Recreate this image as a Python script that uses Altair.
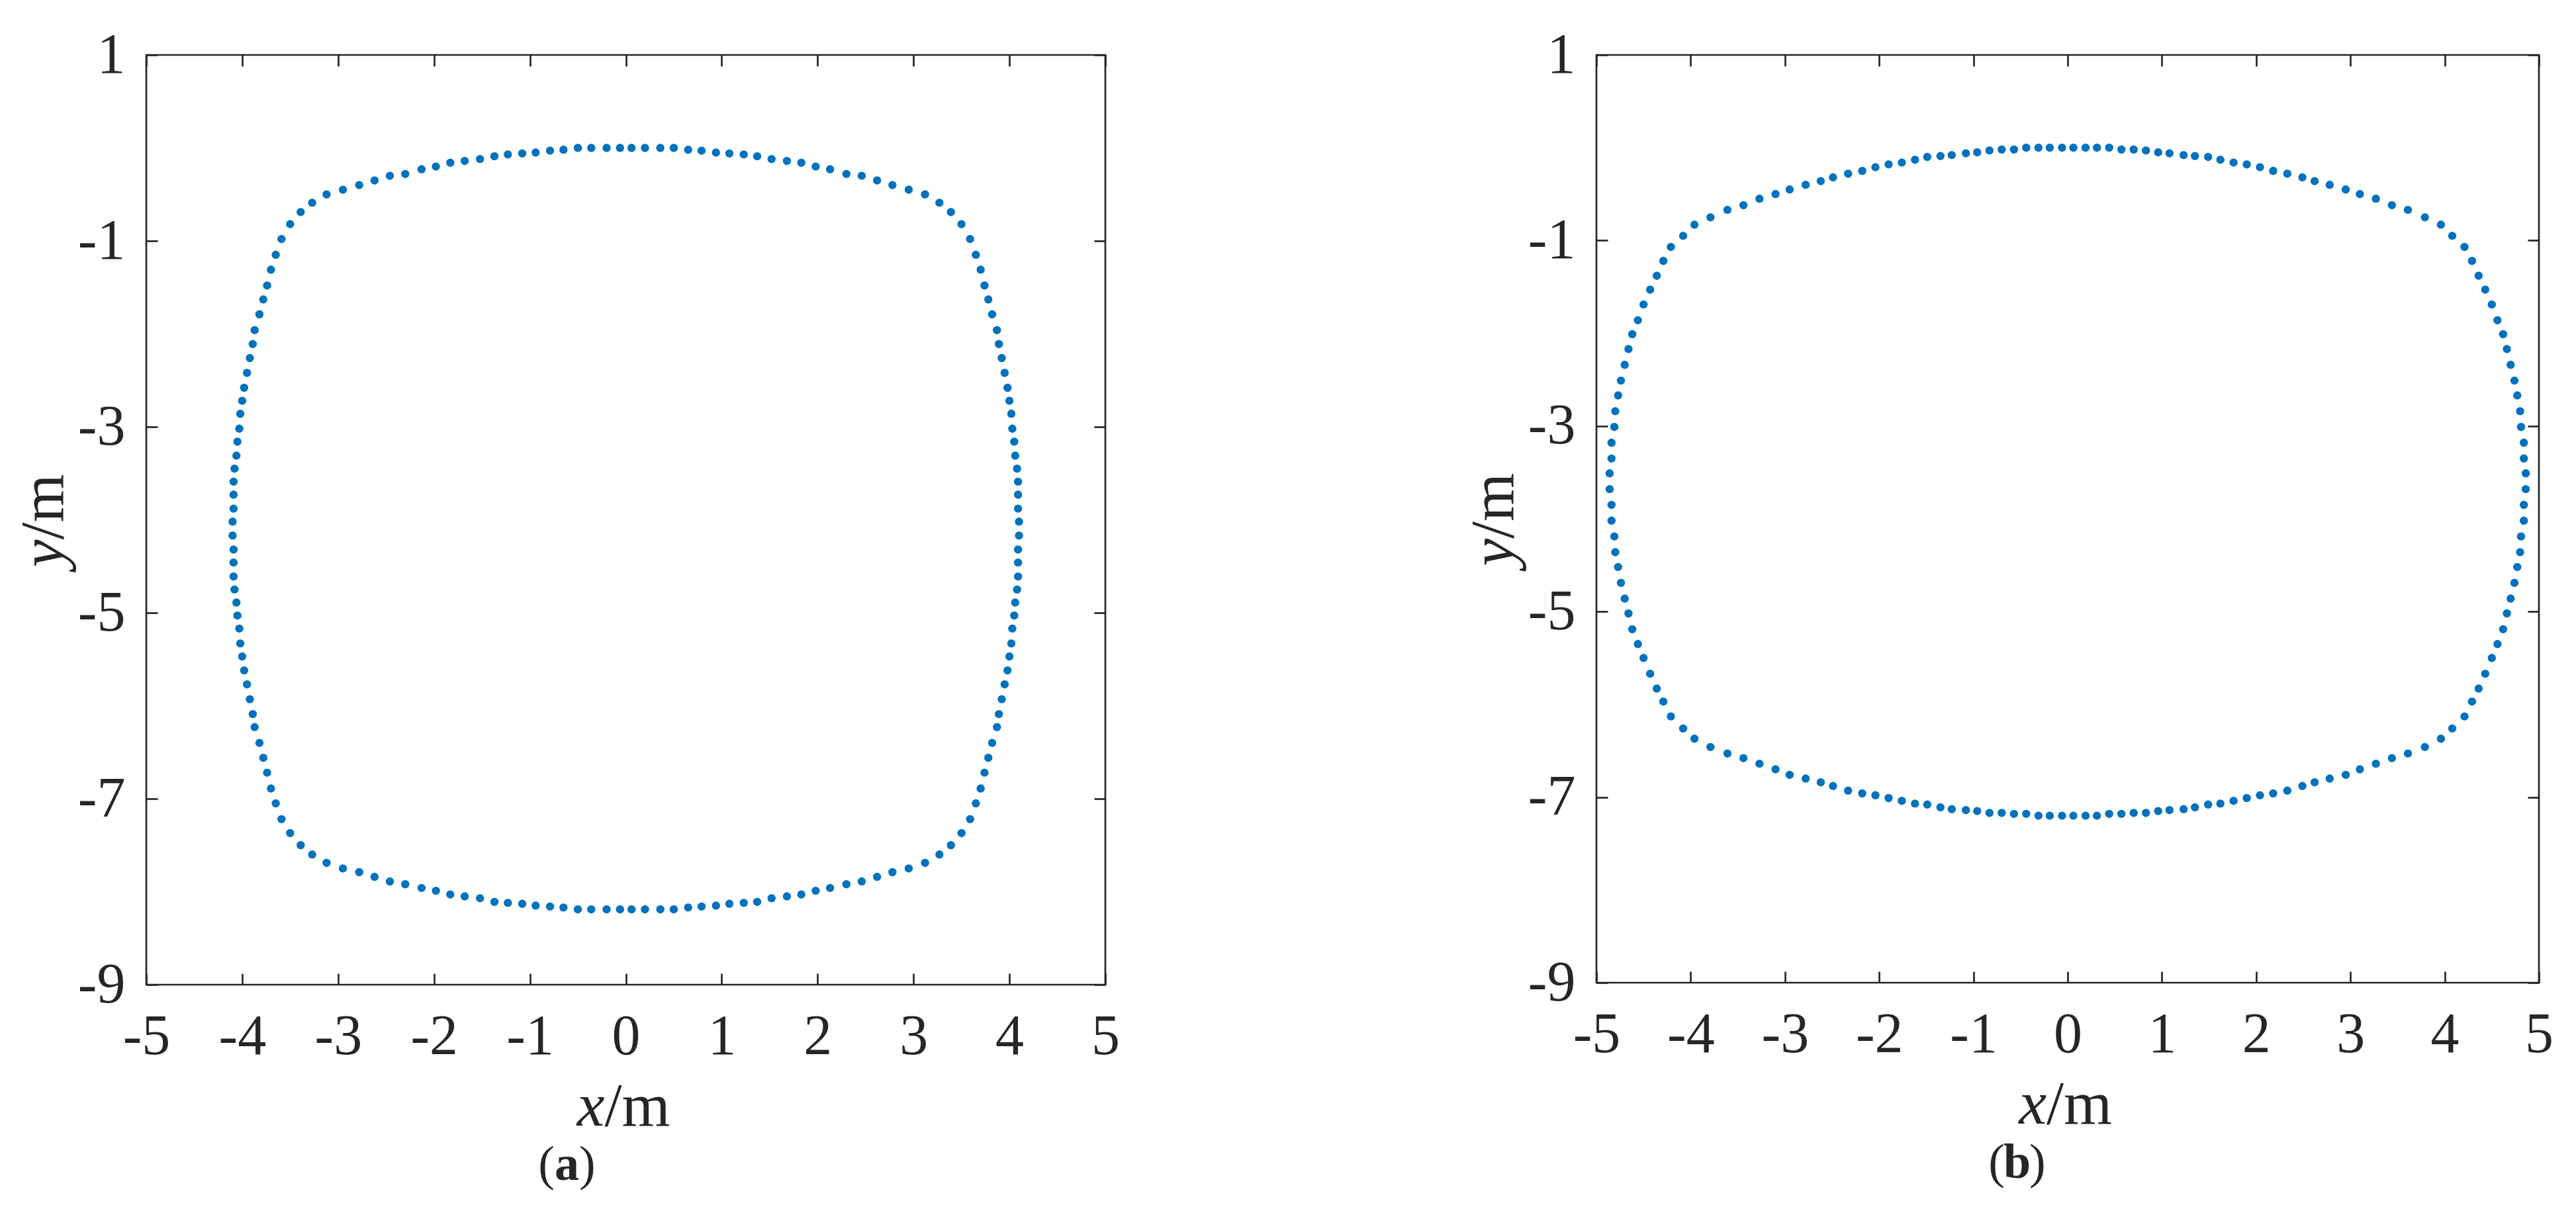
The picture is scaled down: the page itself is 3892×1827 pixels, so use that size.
import altair as alt
import pandas as pd

# ---------------- data ----------------
# Panel (a): dot rows, y shared by the right-half and left-half dots
A_Y = [0.00, 0.00, 0.00, 0.00, -0.02, -0.03, -0.05, -0.06, -0.07, -0.09, -0.12,
       -0.14, -0.16, -0.20, -0.23, -0.28, -0.30, -0.35, -0.40, -0.45, -0.50, -0.59,
       -0.69, -0.82, -0.98, -1.15, -1.31, -1.48, -1.63, -1.79, -1.96, -2.11, -2.26,
       -2.42, -2.58, -2.72, -2.86, -3.02, -3.16, -3.31, -3.45, -3.59, -3.73, -3.88,
       -4.02, -4.17, -4.32, -4.46, -4.61, -4.75, -4.89, -5.03, -5.17, -5.33, -5.47,
       -5.62, -5.77, -5.93, -6.09, -6.23, -6.40, -6.56, -6.72, -6.89, -7.05, -7.22,
       -7.37, -7.50, -7.60, -7.69, -7.75, -7.79, -7.84, -7.89, -7.92, -7.96, -7.99,
       -8.03, -8.05, -8.07, -8.11, -8.12, -8.13, -8.15, -8.16, -8.17, -8.19, -8.19,
       -8.19, -8.19]
A_X_RIGHT = [0.06, 0.20, 0.36, 0.50, 0.65, 0.79, 0.94, 1.08, 1.23, 1.37, 1.52,
             1.68, 1.83, 1.98, 2.13, 2.30, 2.46, 2.62, 2.78, 2.95, 3.12, 3.27,
             3.39, 3.50, 3.59, 3.65, 3.70, 3.74, 3.78, 3.82, 3.87, 3.89, 3.92,
             3.95, 3.98, 4.00, 4.02, 4.03, 4.05, 4.06, 4.08, 4.09, 4.09, 4.09,
             4.10, 4.10, 4.09, 4.09, 4.09, 4.08, 4.06, 4.05, 4.03, 4.02, 4.00,
             3.98, 3.95, 3.92, 3.89, 3.87, 3.82, 3.78, 3.74, 3.70, 3.65, 3.59,
             3.50, 3.39, 3.27, 3.12, 2.95, 2.78, 2.62, 2.46, 2.30, 2.13, 1.98,
             1.83, 1.68, 1.52, 1.37, 1.23, 1.08, 0.94, 0.79, 0.65, 0.50, 0.36,
             0.20, 0.06]
A_X_LEFT = [-0.06, -0.20, -0.36, -0.50, -0.65, -0.79, -0.94, -1.08, -1.23, -1.37, -1.52,
            -1.68, -1.83, -1.98, -2.13, -2.30, -2.46, -2.62, -2.78, -2.95, -3.12, -3.27,
            -3.39, -3.50, -3.59, -3.65, -3.70, -3.74, -3.78, -3.82, -3.87, -3.89, -3.92,
            -3.95, -3.98, -4.00, -4.02, -4.03, -4.05, -4.06, -4.08, -4.09, -4.09, -4.09,
            -4.10, -4.10, -4.09, -4.09, -4.09, -4.08, -4.06, -4.05, -4.03, -4.02, -4.00,
            -3.98, -3.95, -3.92, -3.89, -3.87, -3.82, -3.78, -3.74, -3.70, -3.65, -3.59,
            -3.50, -3.39, -3.27, -3.12, -2.95, -2.78, -2.62, -2.46, -2.30, -2.13, -1.98,
            -1.83, -1.68, -1.52, -1.37, -1.23, -1.08, -0.94, -0.79, -0.65, -0.50, -0.36,
            -0.20, -0.06]

# Panel (b)
B_Y = [0.00, 0.00, 0.00, 0.00, -0.02, -0.02, -0.03, -0.05, -0.06, -0.08, -0.09,
       -0.10, -0.13, -0.16, -0.18, -0.21, -0.25, -0.28, -0.32, -0.36, -0.40, -0.45,
       -0.50, -0.55, -0.62, -0.67, -0.75, -0.83, -0.95, -1.07, -1.22, -1.38, -1.53,
       -1.69, -1.86, -2.01, -2.17, -2.34, -2.51, -2.67, -2.84, -3.01, -3.18, -3.35,
       -3.51, -3.68, -3.85, -4.02, -4.19, -4.36, -4.52, -4.69, -4.86, -5.02, -5.19,
       -5.35, -5.50, -5.67, -5.83, -5.97, -6.13, -6.26, -6.37, -6.46, -6.53, -6.58,
       -6.64, -6.70, -6.76, -6.80, -6.84, -6.88, -6.93, -6.96, -6.98, -7.01, -7.04,
       -7.07, -7.08, -7.11, -7.13, -7.14, -7.15, -7.17, -7.17, -7.18, -7.18, -7.20,
       -7.20, -7.20]
B_X_RIGHT = [0.06, 0.19, 0.31, 0.44, 0.57, 0.70, 0.83, 0.96, 1.08, 1.23, 1.35,
             1.49, 1.62, 1.76, 1.90, 2.04, 2.18, 2.33, 2.49, 2.62, 2.78, 2.95,
             3.10, 3.27, 3.44, 3.61, 3.79, 3.96, 4.08, 4.21, 4.29, 4.36, 4.43,
             4.50, 4.56, 4.62, 4.66, 4.70, 4.74, 4.77, 4.80, 4.81, 4.84, 4.84,
             4.86, 4.86, 4.84, 4.84, 4.81, 4.80, 4.77, 4.74, 4.70, 4.66, 4.62,
             4.56, 4.50, 4.43, 4.36, 4.29, 4.21, 4.08, 3.96, 3.79, 3.61, 3.44,
             3.27, 3.10, 2.95, 2.78, 2.62, 2.49, 2.33, 2.18, 2.04, 1.90, 1.76,
             1.62, 1.49, 1.35, 1.23, 1.08, 0.96, 0.83, 0.70, 0.57, 0.44, 0.31,
             0.19, 0.06]
B_X_LEFT = [-0.06, -0.19, -0.31, -0.44, -0.57, -0.70, -0.83, -0.96, -1.08, -1.23, -1.35,
            -1.49, -1.62, -1.76, -1.90, -2.04, -2.18, -2.33, -2.49, -2.62, -2.78, -2.95,
            -3.10, -3.27, -3.44, -3.61, -3.79, -3.96, -4.08, -4.21, -4.29, -4.36, -4.43,
            -4.50, -4.56, -4.62, -4.66, -4.70, -4.74, -4.77, -4.80, -4.81, -4.84, -4.84,
            -4.86, -4.86, -4.84, -4.84, -4.81, -4.80, -4.77, -4.74, -4.70, -4.66, -4.62,
            -4.56, -4.50, -4.43, -4.36, -4.29, -4.21, -4.08, -3.96, -3.79, -3.61, -3.44,
            -3.27, -3.10, -2.95, -2.78, -2.62, -2.49, -2.33, -2.18, -2.04, -1.90, -1.76,
            -1.62, -1.49, -1.35, -1.23, -1.08, -0.96, -0.83, -0.70, -0.57, -0.44, -0.31,
            -0.19, -0.06]

X_TICKS = [-5, -4, -3, -2, -1, 0, 1, 2, 3, 4, 5]
Y_TICKS = [1, -1, -3, -5, -7, -9]
X_DOMAIN = [-5, 5]
Y_DOMAIN = [-9, 1]
X_TITLE = ["x", "/m"]
Y_TITLE = ["y", "/m"]
CAPTIONS = ["a", "b"]

# ---------------- styling ----------------
FONT = "Liberation Serif"
INK = "#262626"
DOT = "#0072BD"
TICK_FS = 86
TITLE_FS = 94
CAP_FS = 74


def text_layer(txt, px, py, size, style="normal", weight="normal",
               align="left", angle=0):
    d = pd.DataFrame({"t": [txt]})
    kw = dict(font=FONT, fontSize=size, fontStyle=style, fontWeight=weight,
              align=align, baseline="alphabetic", color=INK)
    if angle:
        kw["angle"] = angle
    return alt.Chart(d).mark_text(**kw).encode(
        x=alt.value(px), y=alt.value(py), text="t:N")


def panel(xr, xl, ys, letter, w, h):
    df = pd.DataFrame({"x": xr + xl, "y": ys + ys})
    xscale = alt.Scale(domain=X_DOMAIN, nice=False, zero=False)
    yscale = alt.Scale(domain=Y_DOMAIN, nice=False, zero=False)
    common = dict(grid=False, domain=False, ticks=True,
                  tickSize={"expr": "-17"}, tickWidth=2.7, tickColor=INK,
                  title=None, labelFont=FONT, labelFontSize=TICK_FS,
                  labelColor=INK, labelOverlap=False, labelFlush=False)
    ax_bottom = alt.Axis(orient="bottom", values=X_TICKS, labelPadding=53,
                         labelExpr="'' + datum.value", **common)
    ax_left = alt.Axis(orient="left", values=Y_TICKS, labelPadding=49,
                       labelExpr="'' + datum.value", **common)
    ax_top = alt.Axis(orient="top", values=X_TICKS, labels=False, **common)
    ax_right = alt.Axis(orient="right", values=Y_TICKS, labels=False, **common)

    dots = alt.Chart(df).mark_circle(size=154, color=DOT, opacity=1).encode(
        x=alt.X("x:Q", scale=xscale, axis=ax_bottom),
        y=alt.Y("y:Q", scale=yscale, axis=ax_left),
    )
    frame = alt.Chart(df).mark_circle(opacity=0).encode(
        x=alt.X("x:Q", scale=xscale, axis=ax_top),
        y=alt.Y("y:Q", scale=yscale, axis=ax_right),
    )
    xs = w / 2 - 32
    layers = [
        dots, frame,
        text_layer(X_TITLE[0], xs, h + 213, TITLE_FS, style="italic", align="right"),
        text_layer(X_TITLE[1], xs, h + 213, TITLE_FS, align="left"),
        text_layer(Y_TITLE[0], -126, h / 2 + 30, TITLE_FS, style="italic", align="right", angle=270),
        text_layer(Y_TITLE[1], -126, h / 2 + 30, TITLE_FS, align="left", angle=270),
        text_layer("(", 617, h + 295, CAP_FS, align="right"),
        text_layer(letter, 635.5, h + 295, CAP_FS, weight="bold", align="center"),
        text_layer(")", 654, h + 295, CAP_FS, align="left"),
    ]
    return alt.layer(*layers).properties(width=w, height=h)


pa = panel(A_X_RIGHT, A_X_LEFT, A_Y, CAPTIONS[0], 1449, 1405)
pb = panel(B_X_RIGHT, B_X_LEFT, B_Y, CAPTIONS[1], 1424, 1402)

chart = (
    alt.hconcat(pa, pb, spacing=742, bounds="flush")
    .properties(padding={"left": 10, "top": 30, "right": 5, "bottom": 5},
                background="white")
    .configure_view(stroke=INK, strokeWidth=2.7)
)

chart.save("out.html", embed_options={"renderer": "svg", "actions": False})
